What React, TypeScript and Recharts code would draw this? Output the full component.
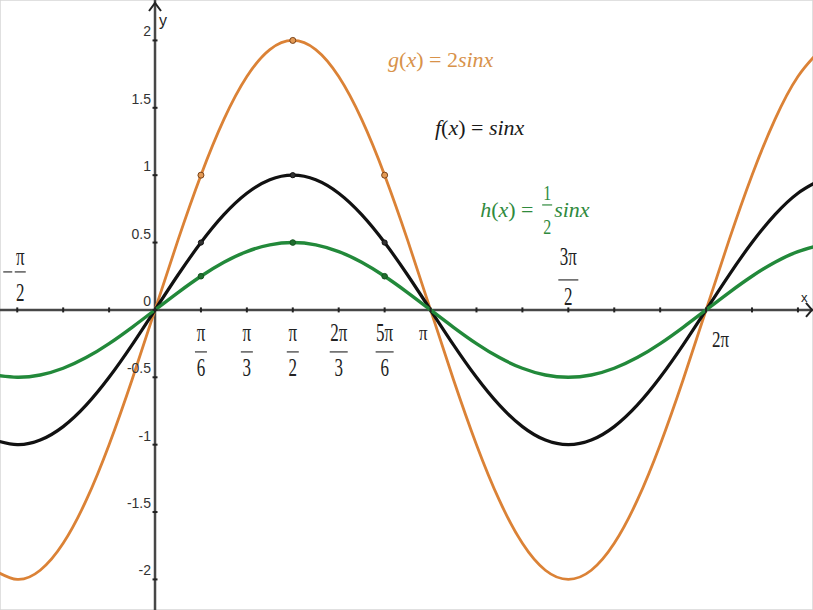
import { LineChart, Line, XAxis, YAxis, CartesianGrid, ReferenceLine, ReferenceDot } from 'recharts'

// x is measured in multiples of π, one sample every π/12
const X_PI = [
  -7 / 12, -6 / 12, -5 / 12, -4 / 12, -3 / 12, -2 / 12, -1 / 12,
  0, 1 / 12, 2 / 12, 3 / 12, 4 / 12, 5 / 12, 6 / 12, 7 / 12, 8 / 12, 9 / 12, 10 / 12, 11 / 12,
  1, 13 / 12, 14 / 12, 15 / 12, 16 / 12, 17 / 12, 18 / 12, 19 / 12, 20 / 12, 21 / 12, 22 / 12, 23 / 12,
  2, 25 / 12, 26 / 12, 27 / 12, 28 / 12, 29 / 12,
]
const F_VALUES = [
  -0.966, -1, -0.966, -0.866, -0.707, -0.5, -0.259,
  0, 0.259, 0.5, 0.707, 0.866, 0.966, 1, 0.966, 0.866, 0.707, 0.5, 0.259,
  0, -0.259, -0.5, -0.707, -0.866, -0.966, -1, -0.966, -0.866, -0.707, -0.5, -0.259,
  0, 0.259, 0.5, 0.707, 0.866, 0.966,
]
const G_VALUES = [
  -1.932, -2, -1.932, -1.732, -1.414, -1, -0.518,
  0, 0.518, 1, 1.414, 1.732, 1.932, 2, 1.932, 1.732, 1.414, 1, 0.518,
  0, -0.518, -1, -1.414, -1.732, -1.932, -2, -1.932, -1.732, -1.414, -1, -0.518,
  0, 0.518, 1, 1.414, 1.732, 1.932,
]
const H_VALUES = [
  -0.483, -0.5, -0.483, -0.433, -0.354, -0.25, -0.129,
  0, 0.129, 0.25, 0.354, 0.433, 0.483, 0.5, 0.483, 0.433, 0.354, 0.25, 0.129,
  0, -0.129, -0.25, -0.354, -0.433, -0.483, -0.5, -0.483, -0.433, -0.354, -0.25, -0.129,
  0, 0.129, 0.25, 0.354, 0.433, 0.483,
]
const MARKED_X = [1 / 6, 1 / 2, 5 / 6]

const X_GRID = [-3, -2, -1, 0, 1, 2, 3, 4, 5, 6, 7, 8, 9, 10, 11, 12, 13, 14].map((k) => k / 6)
const Y_GRID = [-2, -1.5, -1, -0.5, 0, 0.5, 1, 1.5, 2]
const Y_LABELS = ['-2', '-1.5', '-1', '-0.5', '0', '0.5', '1', '1.5', '2']

const X_FRAC_POS = [1 / 6, 1 / 3, 1 / 2, 2 / 3, 5 / 6]
const X_FRAC_NUM = ['π', 'π', 'π', '2π', '5π']
const X_FRAC_DEN = ['6', '3', '2', '3', '6']

const X_MIN = -0.5626
const X_MAX = 2.388
const Y_MIN = -2.227
const Y_MAX = 2.3

const ORANGE = '#db8236'
const BLACK = '#111111'
const GREEN = '#22893a'
const AXIS = '#474747'
const MATH_FONT = '"Liberation Serif", "DejaVu Serif", serif'
const SANS = '"Liberation Sans", Arial, sans-serif'

const data = X_PI.map((x, i) => ({ x, f: F_VALUES[i], g: G_VALUES[i], h: H_VALUES[i] }))

function dotFor(fill: string, stroke: string, r: number) {
  return (props: any) => {
    const { cx, cy, payload, index } = props
    const marked = MARKED_X.some((m) => Math.abs(m - payload.x) < 1e-6)
    if (!marked) return <g key={`d-${index}`} />
    return <circle key={`d-${index}`} cx={cx} cy={cy} r={r} fill={fill} stroke={stroke} strokeWidth={1} />
  }
}

// stretched math-style glyphs
function MathText({ x, y, text, anchor = 'middle', size = 17, sy = 1.45 }: any) {
  return (
    <text
      transform={`translate(${x},${y}) scale(1,${sy})`}
      textAnchor={anchor}
      fontFamily={MATH_FONT}
      fontSize={size}
      fill="#222"
    >
      {text}
    </text>
  )
}

function Fraction({ x, num, den, yNum, yBar, yDen, width }: any) {
  return (
    <g>
      <MathText x={x} y={yNum} text={num} />
      <line x1={x - width / 2} x2={x + width / 2} y1={yBar} y2={yBar} stroke="#333" strokeWidth={1.2} />
      <MathText x={x} y={yDen} text={den} />
    </g>
  )
}

function App() {
  return (
    <div style={{ position: 'absolute', left: 0, top: 0, width: 813, height: 610, background: '#fff' }}>
      <LineChart width={813} height={610} data={data} margin={{ top: 0, right: 0, bottom: 0, left: 0 }}>
        <CartesianGrid stroke="#d6d6d6" strokeWidth={1.5} />
        <XAxis
          dataKey="x"
          type="number"
          domain={[X_MIN, X_MAX]}
          ticks={X_GRID}
          allowDataOverflow
          height={0}
          axisLine={false}
          tickLine={false}
          tick={false}
        />
        <YAxis
          type="number"
          domain={[Y_MIN, Y_MAX]}
          ticks={Y_GRID}
          allowDataOverflow
          width={0}
          axisLine={false}
          tickLine={false}
          tick={false}
        />
        <ReferenceLine y={0} stroke={AXIS} strokeWidth={2.5} />
        <ReferenceLine x={0} stroke={AXIS} strokeWidth={2.5} />

        {/* axis tick marks */}
        {X_GRID.map((t) => (
          <ReferenceDot
            key={`xt-${t}`}
            x={t}
            y={0}
            ifOverflow="visible"
            shape={(p: any) => <line x1={p.cx} x2={p.cx} y1={p.cy - 2.5} y2={p.cy + 2.5} stroke="#222" strokeWidth={2} />}
          />
        ))}
        {Y_GRID.map((t, i) => (
          <ReferenceDot
            key={`yt-${t}`}
            x={0}
            y={t}
            ifOverflow="visible"
            shape={(p: any) => (
              <g>
                <line x1={p.cx - 2.5} x2={p.cx + 2.5} y1={p.cy} y2={p.cy} stroke="#222" strokeWidth={2} />
                <text x={p.cx - 4} y={p.cy - 4} textAnchor="end" fontFamily={SANS} fontSize={14} fill="#333">
                  {Y_LABELS[i]}
                </text>
              </g>
            )}
          />
        ))}

        {/* arrows and axis names */}
        <ReferenceDot
          x={0}
          y={Y_MAX}
          ifOverflow="visible"
          shape={(p: any) => (
            <g>
              <polyline
                points={`${p.cx - 6},${p.cy + 11} ${p.cx},${p.cy + 3} ${p.cx + 6},${p.cy + 11}`}
                fill="none"
                stroke="#222"
                strokeWidth={2}
              />
              <text x={p.cx + 4} y={p.cy + 26} fontFamily={SANS} fontSize={16} fill="#222">y</text>
            </g>
          )}
        />
        <ReferenceDot
          x={X_MAX}
          y={0}
          ifOverflow="visible"
          shape={(p: any) => (
            <g>
              <polyline
                points={`${p.cx - 7},${p.cy - 7} ${p.cx - 1},${p.cy} ${p.cx - 7},${p.cy + 7}`}
                fill="none"
                stroke="#222"
                strokeWidth={2}
              />
              <text x={p.cx - 12} y={p.cy - 8} fontFamily={SANS} fontSize={13} fill="#222">x</text>
            </g>
          )}
        />

        {/* x tick labels */}
        {X_FRAC_POS.map((t, i) => (
          <ReferenceDot
            key={`xf-${t}`}
            x={t}
            y={0}
            ifOverflow="visible"
            shape={(p: any) => (
              <Fraction
                x={p.cx}
                num={X_FRAC_NUM[i]}
                den={X_FRAC_DEN[i]}
                yNum={p.cy + 31}
                yBar={p.cy + 42}
                yDen={p.cy + 66}
                width={X_FRAC_NUM[i].length > 1 ? 18 : 12}
              />
            )}
          />
        ))}
        <ReferenceDot
          x={-1 / 2}
          y={0}
          ifOverflow="visible"
          shape={(p: any) => (
            <g>
              <line x1={p.cx - 14} x2={p.cx - 5} y1={p.cy - 38} y2={p.cy - 38} stroke="#333" strokeWidth={1.2} />
              <Fraction x={p.cx + 3} num="π" den="2" yNum={p.cy - 45} yBar={p.cy - 38} yDen={p.cy - 9} width={11} />
            </g>
          )}
        />
        <ReferenceDot
          x={3 / 2}
          y={0}
          ifOverflow="visible"
          shape={(p: any) => (
            <Fraction x={p.cx} num="3π" den="2" yNum={p.cy - 45} yBar={p.cy - 30} yDen={p.cy - 5} width={20} />
          )}
        />
        <ReferenceDot
          x={1}
          y={0}
          ifOverflow="visible"
          shape={(p: any) => <MathText x={p.cx - 3} y={p.cy + 30} text="π" anchor="end" sy={1.2} />}
        />
        <ReferenceDot
          x={2}
          y={0}
          ifOverflow="visible"
          shape={(p: any) => <MathText x={p.cx + 6} y={p.cy + 37} text="2π" anchor="start" sy={1.3} />}
        />

        {/* function names */}
        <ReferenceDot
          x={0.846}
          y={1.8}
          ifOverflow="visible"
          shape={(p: any) => (
            <text x={p.cx} y={p.cy} fontFamily={MATH_FONT} fontSize={22} fill="#d8924a">
              <tspan fontStyle="italic">g</tspan>(<tspan fontStyle="italic">x</tspan>) = 2<tspan fontStyle="italic">sinx</tspan>
            </text>
          )}
        />
        <ReferenceDot
          x={1.016}
          y={1.3}
          ifOverflow="visible"
          shape={(p: any) => (
            <text x={p.cx} y={p.cy} fontFamily={MATH_FONT} fontSize={22} fill="#1a1a1a">
              <tspan fontStyle="italic">f</tspan>(<tspan fontStyle="italic">x</tspan>) = <tspan fontStyle="italic">sinx</tspan>
            </text>
          )}
        />
        <ReferenceDot
          x={1.18}
          y={0.69}
          ifOverflow="visible"
          shape={(p: any) => (
            <g fill="#2f8a3d" fontFamily={MATH_FONT} fontSize={22}>
              <text x={p.cx} y={p.cy}>
                <tspan fontStyle="italic">h</tspan>(<tspan fontStyle="italic">x</tspan>) =
              </text>
              <text transform={`translate(${p.cx + 67},${p.cy - 17}) scale(1,1.3)`} textAnchor="middle" fontSize={16}>1</text>
              <line x1={p.cx + 62} x2={p.cx + 72} y1={p.cy - 12} y2={p.cy - 12} stroke="#2f8a3d" strokeWidth={1.2} />
              <text transform={`translate(${p.cx + 67},${p.cy + 17}) scale(1,1.3)`} textAnchor="middle" fontSize={16}>2</text>
              <text x={p.cx + 74} y={p.cy} fontStyle="italic">sinx</text>
            </g>
          )}
        />

        <Line
          dataKey="g"
          type="natural"
          stroke={ORANGE}
          strokeWidth={2.8}
          dot={dotFor('#e39a55', '#7a4218', 3)}
          activeDot={false}
          isAnimationActive={false}
        />
        <Line
          dataKey="f"
          type="natural"
          stroke={BLACK}
          strokeWidth={3.2}
          dot={dotFor('#333', '#111', 2.6)}
          activeDot={false}
          isAnimationActive={false}
        />
        <Line
          dataKey="h"
          type="natural"
          stroke={GREEN}
          strokeWidth={3.4}
          dot={dotFor('#1f6e2e', '#15541f', 2.8)}
          activeDot={false}
          isAnimationActive={false}
        />
      </LineChart>
    </div>
  )
}

export default App
